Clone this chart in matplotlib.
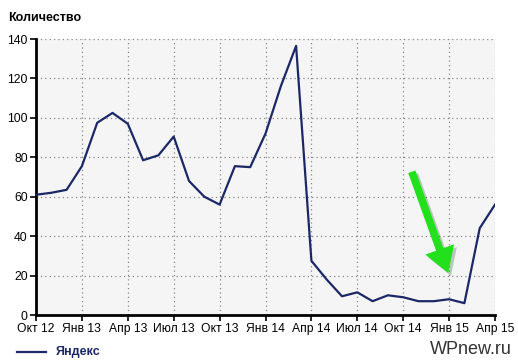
import numpy as np
import matplotlib
matplotlib.use("Agg")
import matplotlib.pyplot as plt
import matplotlib.patheffects as pe

plt.rcParams['font.family'] = ['Liberation Sans', 'DejaVu Sans']

# помесячные значения, Окт 12 .. Апр 15
months = np.arange(31)
yandex = [61, 62, 63.5, 75.5, 97.5, 102.5, 97, 78.5, 81, 90.5,
          68, 60, 56, 75.5, 75, 92, 116, 136.5, 27.5, 18,
          9.5, 11.5, 7, 10, 9, 7, 7, 8, 6, 44, 56]
tick_pos = [0, 3, 6, 9, 12, 15, 18, 21, 24, 27, 30]
tick_labels = ["Окт 12", "Янв 13", "Апр 13", "Июл 13", "Окт 13", "Янв 14",
               "Апр 14", "Июл 14", "Окт 14", "Янв 15", "Апр 15"]
y_ticks = [0, 20, 40, 60, 80, 100, 120, 140]

navy = "#1c2866"

fig = plt.figure(figsize=(5.18, 3.64), dpi=100)
ax = fig.add_axes([36 / 518, 1 - 315 / 364, 459 / 518, 276 / 364])
ax.set_facecolor("#f5f5f5")

ax.plot(months, yandex, color=navy, lw=1.6, zorder=3)

ax.set_xlim(0, 30)
ax.set_ylim(0, 140)
ax.set_xticks(tick_pos)
ax.set_xticklabels(tick_labels)
ax.set_yticks(y_ticks)
ax.tick_params(labelsize=8.7, length=4, width=1.2, pad=2)
ax.grid(True, color="#888888", linestyle=(0, (1, 2.5)), lw=0.9)

for s in ("top", "right"):
    ax.spines[s].set_visible(False)
for s in ("left", "bottom"):
    ax.spines[s].set_linewidth(2)
    ax.spines[s].set_color("black")

fig.text(8 / 518, 1 - 18 / 364, "Количество", fontsize=9, fontweight="bold",
         va="center", ha="left")

# зелёная стрелка
ax.annotate("", xy=(27.0, 20), xytext=(24.5, 74),
            arrowprops=dict(arrowstyle="simple,head_width=2.2,head_length=1.8,tail_width=0.55",
                            color="#22e01c", lw=0,
                            path_effects=[pe.SimplePatchShadow(offset=(2, -2), alpha=0.25),
                                          pe.Normal()]),
            zorder=4)

# легенда
fig.add_artist(plt.Line2D([17 / 518, 46 / 518], [1 - 352 / 364] * 2,
                          color=navy, lw=1.6, transform=fig.transFigure))
fig.text(56 / 518, 1 - 352 / 364, "Яндекс", fontsize=9, fontweight="bold",
         color=navy, va="center", ha="left")

fig.text(512 / 518, 1 - 350 / 364, "WPnew.ru", fontsize=13, color="#333333",
         va="center", ha="right")

fig.savefig("out.png", dpi=100)
